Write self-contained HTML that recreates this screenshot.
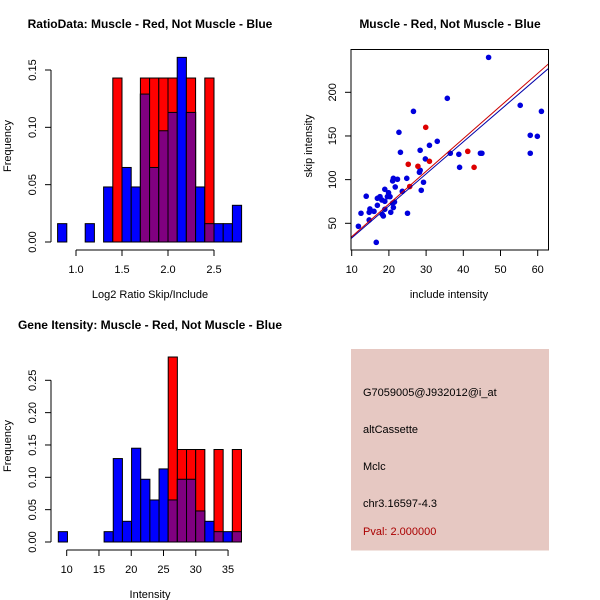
<!DOCTYPE html>
<html><head><meta charset="utf-8"><style>
html,body{margin:0;padding:0;background:#fff;}
svg{display:block;font-family:"Liberation Sans",Arial,sans-serif;}
</style></head><body>
<svg id="c" width="600" height="600" viewBox="0 0 600 600">
<rect width="600" height="600" fill="#fff"/>
</svg>
<script>
// ---- Data: top-left ratio histogram ----
const ratioBinStart = 0.8;
const ratioBinWidth = 0.1;
const ratioBlue = [0.016,0,0,0.016,0,0.048,0,0.065,0.048,0.129,0.065,0.097,0.113,0.161,0.113,0.048,0.016,0.016,0.016,0.032];
const ratioRed  = [0,0,0,0,0,0,0.143,0,0,0.143,0.143,0.143,0.143,0,0.143,0,0.143,0,0,0];
const ratioXTicks = [1.0,1.5,2.0,2.5];
const ratioXTickLabels = ["1.0","1.5","2.0","2.5"];
const ratioYTicks = [0,0.05,0.10,0.15];
const ratioYTickLabels = ["0.00","0.05","0.10","0.15"];
// ---- Data: bottom-left intensity histogram ----
const intBinStart = 8.7;
const intBinWidth = 1.419;
const intBlue = [0.016,0,0,0,0,0.016,0.129,0.032,0.145,0.097,0.065,0.113,0.065,0.097,0.097,0.048,0.032,0.016,0.016,0.016];
const intRed  = [0,0,0,0,0,0,0,0,0,0,0,0,0.286,0.143,0.143,0.143,0,0.143,0,0.143];
const intXTicks = [10,15,20,25,30,35];
const intXTickLabels = ["10","15","20","25","30","35"];
const intYTicks = [0,0.05,0.10,0.15,0.20,0.25];
const intYTickLabels = ["0.00","0.05","0.10","0.15","0.20","0.25"];
// ---- Data: scatter ----
const blueX = [11.8,12.5,13.9,14.7,14.9,14.7,16,16.6,16.9,16.9,17.6,18.1,18.2,18.5,18.9,18.9,18.9,19.6,19.9,20.3,20.5,21,21.2,21,21.2,21.5,21.7,22.3,22.7,23.1,23.6,24.8,25,26.6,28.4,28.4,28.2,28.7,29.3,29.8,30.9,33,35.7,36.5,38.8,39,44.6,45,46.8,55.3,58,58,59.9,61];
const blueY = [46.6,61.5,81,62.6,66.4,53.8,63.7,28.2,70.6,78.6,80.5,76.7,60.3,58.4,75.2,88.9,66,80.5,85,80.5,62.6,98.5,101.5,73,68,74.4,91.6,100.4,154.2,131.3,86.6,101.5,61.5,178.2,133.6,110.7,108.4,87.8,97,123.7,139.3,143.9,193.1,130.2,129,114.1,130.2,130.2,240,185.1,150.8,130.2,149.6,178.2];
const redX = [25.2,25.6,27.8,29.9,30.9,41.2,42.9];
const redY = [117.6,92.1,115.3,159.9,121,132.4,114.1];
const redFit = [-2.7,3.74];   // intercept, slope
const blueFit = [-3.5,3.67];
const scatXTicks = [10,20,30,40,50,60];
const scatXTickLabels = ["10","20","30","40","50","60"];
const scatYTicks = [50,100,150,200];
const scatYTickLabels = ["50","100","150","200"];

const NS="http://www.w3.org/2000/svg";
const svg=document.getElementById('c');
function mk(tag,attrs,parent){const e=document.createElementNS(NS,tag);for(const k in attrs)e.setAttribute(k,attrs[k]);(parent||svg).appendChild(e);return e;}
function txt(s,x,y,opts,name){const t=mk('text',Object.assign({x:x,y:y,'font-size':11,fill:'#000'},opts||{}));t.textContent=s;


return t;}

function histogram(cfg){
  const g=mk('g',{});
  
  
  const xs=v=>cfg.x0+(v-cfg.xv0)*cfg.xk;
  const ys=v=>cfg.base-v*cfg.yk;
  const n=cfg.blue.length;
  for(let i=0;i<n;i++){
    const a=xs(cfg.bs+i*cfg.bw), b=xs(cfg.bs+(i+1)*cfg.bw);
    const bl=cfg.blue[i], rd=cfg.red[i], mn=Math.min(bl,rd);
    if(bl>0){const r=mk('rect',{x:a,y:ys(bl),width:b-a,height:ys(0)-ys(bl),fill:'#0000ff',stroke:'#000','stroke-width':1},g);
      
      }
    if(rd>0){const r=mk('rect',{x:a,y:ys(rd),width:b-a,height:ys(0)-ys(rd),fill:'#ff0000',stroke:'#000','stroke-width':1},g);
      
      }
    if(mn>0){const r=mk('rect',{x:a,y:ys(mn),width:b-a,height:ys(0)-ys(mn),fill:'#800080',stroke:'#000','stroke-width':1},g);
      
      }
  }
  const yt=cfg.yTicks;
  const ya=mk('line',{x1:cfg.yAxisX,x2:cfg.yAxisX,y1:ys(yt[0]),y2:ys(yt[yt.length-1]),stroke:'#000'},g);
  
  
  yt.forEach((v,i)=>{mk('line',{x1:cfg.yAxisX-6,x2:cfg.yAxisX,y1:ys(v),y2:ys(v),stroke:'#000'},g);
    const lx=cfg.yAxisX-15;
    txt(cfg.yLabels[i],lx,ys(v),{'text-anchor':'middle',transform:`rotate(-90 ${lx} ${ys(v)})`},'y-tick-label');});
  const xt=cfg.xTicks;
  const xa=mk('line',{x1:xs(xt[0]),x2:xs(xt[xt.length-1]),y1:cfg.xAxisY,y2:cfg.xAxisY,stroke:'#000'},g);
  
  
  xt.forEach((v,i)=>{mk('line',{x1:xs(v),x2:xs(v),y1:cfg.xAxisY,y2:cfg.xAxisY+6,stroke:'#000'},g);
    txt(cfg.xLabels[i],xs(v),cfg.xAxisY+23,{'text-anchor':'middle'},'x-tick-label');});
}

histogram({name:'ratio-histogram',x0:76,xv0:1.0,xk:92,base:242,yk:1146.7,bs:ratioBinStart,bw:ratioBinWidth,blue:ratioBlue,red:ratioRed,
  yAxisX:51,xAxisY:250,yTicks:ratioYTicks,yLabels:ratioYTickLabels,xTicks:ratioXTicks,xLabels:ratioXTickLabels});
histogram({name:'intensity-histogram',x0:66.7,xv0:10,xk:6.454,base:542,yk:646.8,bs:intBinStart,bw:intBinWidth,blue:intBlue,red:intRed,
  yAxisX:51,xAxisY:550,yTicks:intYTicks,yLabels:intYTickLabels,xTicks:intXTicks,xLabels:intXTickLabels});

txt('RatioData: Muscle - Red, Not Muscle - Blue',150,28,{'text-anchor':'middle','font-weight':'bold','font-size':12},'ratio-title');
txt('Frequency',11,146,{'text-anchor':'middle',transform:'rotate(-90 11 146)'},'ratio-y-axis-title');
txt('Log2 Ratio Skip/Include',150,298,{'text-anchor':'middle'},'ratio-x-axis-title');
txt('Gene Itensity: Muscle - Red, Not Muscle - Blue',150,329,{'text-anchor':'middle','font-weight':'bold','font-size':12},'intensity-title');
txt('Frequency',11,446,{'text-anchor':'middle',transform:'rotate(-90 11 446)'},'intensity-y-axis-title');
txt('Intensity',150,598,{'text-anchor':'middle'},'intensity-x-axis-title');

// scatter
(function(){
  const L=351,R=548.5,T=49.5,B=250;
  const xs=v=>351.7+(v-10)*3.72;
  const ys=v=>223.3-(v-50)*0.8733;
  const g=mk('g',{});
  
  
  const cp=mk('clipPath',{id:'sc'},g);
  mk('rect',{x:L,y:T,width:R-L,height:B-T},cp);
  blueX.forEach((x,i)=>{const c=mk('circle',{cx:xs(x),cy:ys(blueY[i]),r:2.8,fill:'#0000dd'},g);
    
    });
  redX.forEach((x,i)=>{const c=mk('circle',{cx:xs(x),cy:ys(redY[i]),r:2.8,fill:'#dd0000'},g);
    
    });
  [[blueFit,'#0000aa','blue-fit-line'],[redFit,'#cc0000','red-fit-line']].forEach(([f,col,nm])=>{
    const x1=8,x2=64;
    const l=mk('line',{x1:xs(x1),y1:ys(f[0]+f[1]*x1),x2:xs(x2),y2:ys(f[0]+f[1]*x2),stroke:col,'stroke-width':1,'clip-path':'url(#sc)'},g);
    
    });
  const box=mk('rect',{x:L,y:T,width:R-L,height:B-T,fill:'none',stroke:'#000'},g);
  
  
  scatXTicks.forEach((v,i)=>{mk('line',{x1:xs(v),x2:xs(v),y1:B,y2:B+6,stroke:'#000'},g);
    txt(scatXTickLabels[i],xs(v),B+23,{'text-anchor':'middle'},'x-tick-label');});
  scatYTicks.forEach((v,i)=>{mk('line',{x1:L-6,x2:L,y1:ys(v),y2:ys(v),stroke:'#000'},g);
    const lx=L-15;
    txt(scatYTickLabels[i],lx,ys(v),{'text-anchor':'middle',transform:`rotate(-90 ${lx} ${ys(v)})`},'y-tick-label');});
})();
txt('Muscle - Red, Not Muscle - Blue',450,28,{'text-anchor':'middle','font-weight':'bold','font-size':12},'scatter-title');
txt('skip intensity',312,146,{'text-anchor':'middle',transform:'rotate(-90 312 146)'},'scatter-y-axis-title');
txt('include intensity',449,298,{'text-anchor':'middle'},'scatter-x-axis-title');

// info box
const ib=mk('rect',{x:351,y:349,width:198,height:201.5,fill:'#e6c8c2'});


txt('G7059005@J932012@i_at',363,396,{},'probe-id');
txt('altCassette',363,433,{},'event-type');
txt('Mclc',363,470,{},'gene-name');
txt('chr3.16597-4.3',363,507,{},'chromosome-location');
txt('Pval: 2.000000',363,535,{fill:'#aa0000'},'p-value');
</script>
</body></html>
